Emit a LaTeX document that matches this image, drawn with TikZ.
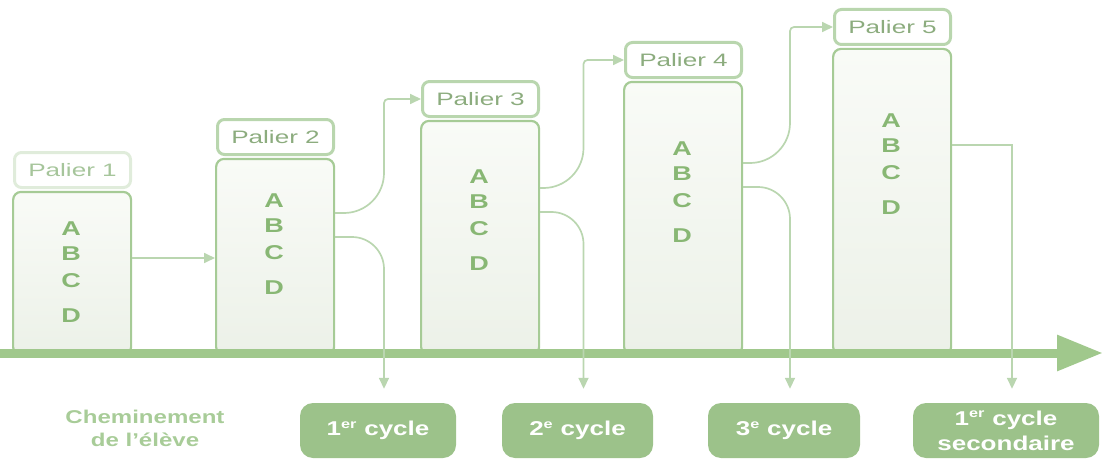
\documentclass[tikz,border=0pt]{standalone}
\usepackage{fontspec}
\usepackage{graphicx}
\setmainfont{Liberation Sans}
\usetikzlibrary{arrows.meta}

\definecolor{stem}{RGB}{166,203,150}
\definecolor{mist}{RGB}{236,241,232}
\definecolor{mistlight}{RGB}{249,251,247}
\definecolor{tagline}{RGB}{185,214,174}
\definecolor{tagtext}{RGB}{140,172,126}
\definecolor{tagfaint}{RGB}{224,236,219}
\definecolor{tagfainttext}{RGB}{166,197,155}
\definecolor{moss}{RGB}{136,183,116}
\definecolor{leaf}{RGB}{160,200,140}
\definecolor{pale}{RGB}{186,214,176}
\definecolor{sage}{RGB}{156,194,138}
\definecolor{chem}{RGB}{168,204,152}

\newcommand{\wide}[2]{\scalebox{#1}[1]{#2}}
\newcommand{\sups}[1]{\textsuperscript{\fontsize{12.5}{12}\selectfont #1}}

\begin{document}
\begin{tikzpicture}[x=1pt, y=1pt,
    pillar/.style={draw=stem, line width=2.2pt, rounded corners=8pt, top color=mistlight, bottom color=mist, minimum width=118pt, inner sep=0pt, anchor=south west},
    tag/.style={draw=tagline, line width=3pt, rounded corners=7pt, minimum width=116pt, minimum height=35pt, inner sep=0pt, anchor=south west, text=tagtext, font=\fontsize{18}{20}\selectfont},
    tag1/.style={draw=tagfaint, text=tagfainttext},
    letter/.style={text=moss, inner sep=0pt, font=\bfseries\fontsize{20}{22}\selectfont},
    cycle/.style={fill=sage, rounded corners=13pt, minimum height=55pt, text=white, align=center, inner sep=0pt, font=\bfseries\fontsize{20}{25}\selectfont},
    link/.style={draw=pale, line width=1.7pt},
    tip/.style={-{Triangle[length=11pt,width=10pt]}}
]
    \useasboundingbox (0,0) rectangle (1105,459);

    % paliers
    \foreach \i/\x/\h/\a in {1/12/266/230.5, 2/215/299/258.5, 3/420/337/282.5, 4/623/376/310.5, 5/832/409/338.5} {
        \node[pillar, minimum height={\h pt-103pt}] (p\i) at (\x, 103) {};
        \node[tag, tag\i/.try] (l\i) at (\x+1, \h+4) {\wide{1.45}{Palier \i}};
        \foreach \c/\d in {A/0, B/25, C/52.5, D/87}
            \node[letter] (t\i\c) at (\x+59, \a-\d) {\wide{1.35}{\c}};
    }

    % axe
    \coordinate (ax0) at (0, 106);
    \coordinate (ax1) at (1103, 106);
    \draw[leaf, line width=9pt, -{Triangle[length=46pt,width=34pt]}] (ax0) -- (ax1);

    % cycles
    \node[cycle, minimum width=156pt] (c1) at (378, 28.5) {\wide{1.3}{1\sups{er} cycle}};
    \node[cycle, minimum width=151pt] (c2) at (577.5, 28.5) {\wide{1.3}{2\sups{e} cycle}};
    \node[cycle, minimum width=152pt] (c3) at (784, 28.5) {\wide{1.3}{3\sups{e} cycle}};
    \node[cycle, minimum width=186pt] (c4) at (1006, 28.5) {\wide{1.3}{1\sups{er} cycle}\\\wide{1.3}{secondaire}};
    \node[text=chem, align=center, font=\bfseries\fontsize{18.5}{23}\selectfont] (route) at (145, 30.5) {\wide{1.3}{Cheminement}\\\wide{1.3}{de l’élève}};

    % liens
    \draw[link, tip] ([yshift=98pt]p1.south east) -- ([yshift=98pt]p2.south west);
    \foreach \i/\j/\k in {2/3/1, 3/4/2, 4/5/3} {
        \pgfmathsetmacro\u{143+25*(\i-2)}
        \pgfmathsetmacro\w{119+25*(\i-2)}
        \coordinate (v\k) at ([xshift=6pt]c\k.north);
        \coordinate (s\i) at ([yshift=\u pt]p\i.south east);
        \draw[link, tip] (s\i) [rounded corners=40pt] -- (v\k |- s\i) [rounded corners=4pt] -- (v\k |- l\j.west) -- (l\j.west);
        \draw[link, tip, rounded corners=32pt, shorten >=14pt] ([yshift=\w pt]p\i.south east) -| (v\k);
    }
    \coordinate (v4) at ([xshift=6pt]c4.north);
    \draw[link, tip, shorten >=14pt] ([yshift=211pt]p5.south east) -| (v4);
\end{tikzpicture}
\end{document}
